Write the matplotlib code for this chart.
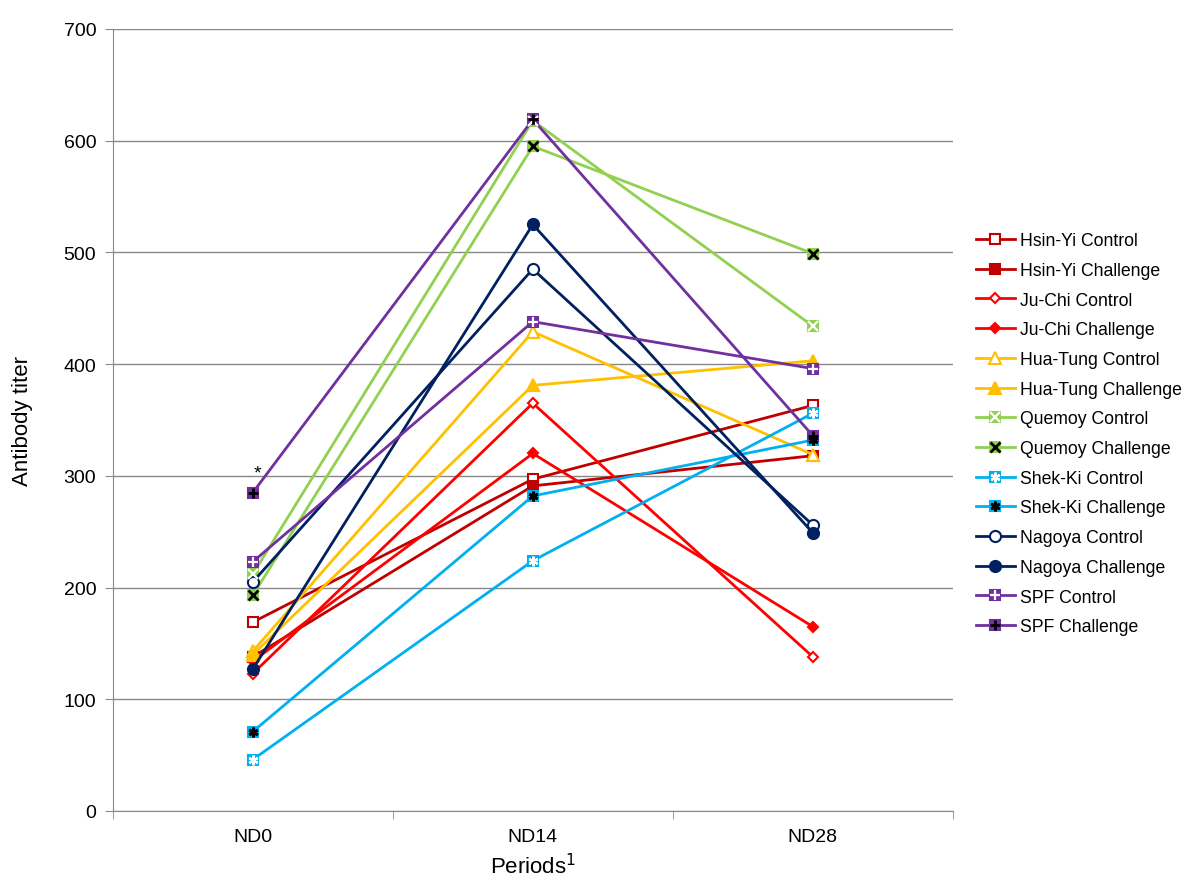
import matplotlib
matplotlib.use("Agg")
import matplotlib.pyplot as plt
from matplotlib.legend_handler import HandlerTuple

plt.rcParams['font.family'] = ['Liberation Sans', 'DejaVu Sans']

periods = ["ND0", "ND14", "ND28"]

hsinyi_control = [169, 297, 363]
hsinyi_challenge = [138, 291, 318]
juchi_control = [123, 365, 138]
juchi_challenge = [134, 320, 165]
huatung_control = [143, 429, 319]
huatung_challenge = [140, 381, 403]
quemoy_control = [212, 618, 434]
quemoy_challenge = [193, 595, 499]
shekki_control = [46, 224, 356]
shekki_challenge = [71, 282, 332]
nagoya_control = [205, 485, 256]
nagoya_challenge = [127, 525, 249]
spf_control = [223, 438, 396]
spf_challenge = [285, 619, 336]

# (label, values, color, base marker, base face, overlay marker, overlay color)
series = [
    ("Hsin-Yi Control", hsinyi_control, "#C00000", "s", "white", None, None),
    ("Hsin-Yi Challenge", hsinyi_challenge, "#C00000", "s", "#C00000", None, None),
    ("Ju-Chi Control", juchi_control, "#FF0000", "D", "white", None, None),
    ("Ju-Chi Challenge", juchi_challenge, "#FF0000", "D", "#FF0000", None, None),
    ("Hua-Tung Control", huatung_control, "#FFC000", "^", "white", None, None),
    ("Hua-Tung Challenge", huatung_challenge, "#FFC000", "^", "#FFC000", None, None),
    ("Quemoy Control", quemoy_control, "#92D050", "s", "#92D050", "x", "white"),
    ("Quemoy Challenge", quemoy_challenge, "#92D050", "s", "#92D050", "x", "black"),
    ("Shek-Ki Control", shekki_control, "#00B0F0", "s", "#00B0F0", (6, 2, 0), "white"),
    ("Shek-Ki Challenge", shekki_challenge, "#00B0F0", "s", "#00B0F0", (6, 2, 0), "black"),
    ("Nagoya Control", nagoya_control, "#002060", "o", "white", None, None),
    ("Nagoya Challenge", nagoya_challenge, "#002060", "o", "#002060", None, None),
    ("SPF Control", spf_control, "#7030A0", "s", "#7030A0", "+", "white"),
    ("SPF Challenge", spf_challenge, "#7030A0", "s", "#7030A0", "+", "black"),
]

fig = plt.figure(figsize=(12, 8.87), dpi=100)
ax = fig.add_axes([0.094, 0.0846, 0.7, 0.8816])

x = list(range(len(periods)))
handles = []
labels = []
for label, vals, color, mk, face, ov, ovc in series:
    ms = 7 if mk != "D" else 5.5
    if mk == "^":
        ms = 9
    if mk == "o":
        ms = 8
    ln, = ax.plot(x, vals, color=color, lw=2, marker=mk, markersize=ms,
                  markerfacecolor=face, markeredgecolor=color, markeredgewidth=1.5,
                  zorder=3)
    h = [ln]
    if ov is not None:
        o, = ax.plot(x, vals, ls="none", marker=ov, markersize=7,
                     markeredgecolor=ovc, markeredgewidth=2 if ovc == "black" else 1.6,
                     zorder=4)
        h.append(o)
    handles.append(tuple(h))
    labels.append(label)

ax.text(0.018, 303, "*", fontsize=14, ha="center", va="center")

ax.set_xlim(-0.5, 2.5)
ax.set_ylim(0, 700)
ax.set_yticks(range(0, 701, 100))
ax.set_xticks(x)
ax.set_xticklabels(periods)
ax.set_xticks([-0.5, 0.5, 1.5, 2.5], minor=True)
ax.tick_params(axis="x", which="major", length=0, pad=12, labelsize=14)
ax.tick_params(axis="x", which="minor", length=6, color="#888888")
ax.tick_params(axis="y", length=6, color="#888888", labelsize=14, pad=6)
ax.yaxis.grid(True, color="#888888", lw=1)
ax.set_axisbelow(True)
for s in ["top", "right"]:
    ax.spines[s].set_visible(False)
for s in ["left", "bottom"]:
    ax.spines[s].set_color("#888888")

ax.set_ylabel("Antibody titer", fontsize=16, labelpad=22)
ax.set_xlabel("Periods$^1$", fontsize=16, labelpad=6)

fig.legend(handles, labels, handler_map={tuple: HandlerTuple(ndivide=1, pad=0)},
           loc="upper left", bbox_to_anchor=(0.8, 0.755), frameon=False,
           fontsize=12.7, labelspacing=0.72, handlelength=2.2, handletextpad=0.3)

fig.savefig("out.png", dpi=100)
